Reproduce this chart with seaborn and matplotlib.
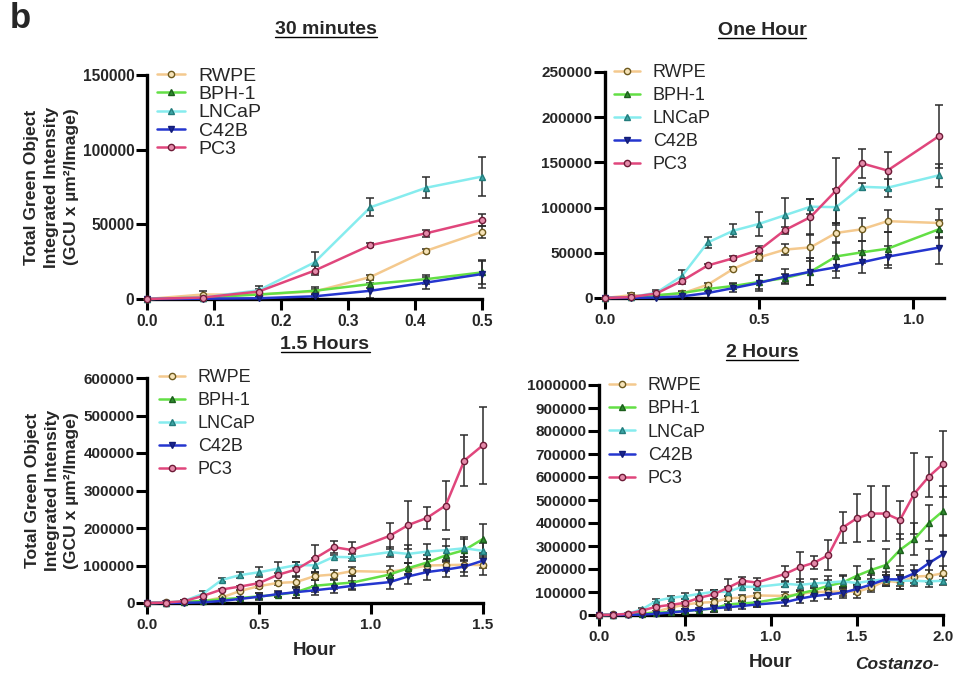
import numpy as np
import pandas as pd
import matplotlib
matplotlib.use("Agg")
import matplotlib.pyplot as plt
from matplotlib.lines import Line2D
import seaborn as sns

# ---------------- data ----------------
minutes = [0, 5, 10, 15, 20, 25, 30, 35, 40, 45, 50, 55,
           65, 70, 75, 80, 85, 90, 95, 100, 105, 110, 115, 120]

rwpe = [0, 3000, 3000, 5000, 14700, 32300, 45000, 53500, 56000, 72000, 76000, 85000,
        83000, 91000, 100000, 101000, 102000, 101000, 120000, 149000, 142000, 167000, 170000, 181000]
bph1 = [0, 1000, 3000, 5500, 10000, 13300, 17800, 22000, 29000, 46000, 50500, 54500,
        76000, 93000, 108000, 127000, 141000, 171000, 196000, 217000, 283000, 329000, 399000, 452000]
lncap = [0, 1000, 5800, 24500, 61400, 74500, 82000, 91500, 101000, 100500, 123000, 122000,
         135700, 131000, 137000, 141000, 146000, 139000, 149000, 155000, 149000, 149000, 146000, 149000]
c42b = [0, 200, 500, 1800, 5500, 11000, 16700, 23600, 29000, 34000, 39500, 45700,
        55700, 71000, 82500, 89000, 97000, 113000, 133000, 155000, 155000, 181000, 225000, 264000]
pc3 = [0, 1000, 5000, 19000, 36000, 44000, 53000, 75000, 89500, 119000, 149000, 141000,
       179000, 208000, 227000, 260000, 380000, 421000, 441000, 441000, 413000, 528000, 601000, 657000]

rwpe_err = [0, 2500, 1500, 1500, 1500, 1500, 4000, 6000, 15000, 11000, 13000, 12000,
            16000, 15000, 18000, 15000, 20000, 25000, 20000, 25000, 30000, 30000, 25000, 30000]
bph1_err = [0, 500, 1500, 2500, 2500, 3000, 8000, 5000, 15000, 16000, 12000, 18000,
            10000, 15000, 20000, 25000, 30000, 40000, 46000, 71000, 70000, 70000, 79000, 109000]
lncap_err = [0, 500, 3000, 7000, 6000, 7000, 13000, 19000, 8000, 20000, 4000, 10000,
             13000, 25000, 20000, 30000, 30000, 20000, 25000, 20000, 25000, 25000, 25000, 20000]
c42b_err = [0, 200, 500, 1000, 5000, 4000, 9000, 8000, 15000, 12000, 12000, 12000,
            18000, 20000, 20000, 20000, 25000, 20000, 25000, 30000, 40000, 35000, 60000, 85000]
pc3_err = [0, 500, 2000, 3000, 1500, 2500, 4000, 4000, 20000, 36000, 16000, 21000,
           35000, 65000, 29000, 66000, 69000, 103000, 121000, 121000, 83000, 176000, 87000, 143000]

series_names = ["RWPE", "BPH-1", "LNCaP", "C42B", "PC3"]
series_vals = [rwpe, bph1, lncap, c42b, pc3]
series_errs = [rwpe_err, bph1_err, lncap_err, c42b_err, pc3_err]

panel_titles = ["30 minutes", "One Hour", "1.5 Hours", "2 Hours"]
panel_cutoff_min = [30, 65, 90, 120]

# ---------------- styles ----------------
line_colors = ["#F4C98E", "#63DF45", "#86ECEE", "#2536CF", "#E0467C"]
edge_colors = ["#6E5A1E", "#1C5E1C", "#227C7C", "#121C78", "#6E1B37"]
face_colors = ["#F6E3B8", "#2E8A2E", "#3BA5A5", "#1A2690", "#E58AAA"]
markers = ["o", "^", "^", "v", "o"]

W, H = 959, 676
sns.set_style("ticks")
plt.rcParams["font.family"] = ["Liberation Sans", "DejaVu Sans"]

fig = plt.figure(figsize=(W / 100, H / 100), dpi=100)


def rect(l, r, t, b):
    return [l / W, 1 - b / H, (r - l) / W, (b - t) / H]


axes_px = [(147, 482, 75, 299), (605, 944, 72, 298),
           (147, 483, 378, 603), (599, 943, 385, 615)]
xlims = [0.5, 1.1, 1.5, 2.0]
xticks = [np.arange(0, 0.51, 0.1), [0, 0.5, 1.0], [0, 0.5, 1.0, 1.5], [0, 0.5, 1.0, 1.5, 2.0]]
ylims = [150000, 250000, 600000, 1000000]
ysteps = [50000, 50000, 100000, 100000]
tick_fs = [11.2, 11, 11, 11]
leg_fs = [14, 13, 13, 13]
leg_anchor = [(157, 67), (614, 64), (159, 369), (609, 377)]
leg_space = [0.04, 0.33, 0.33, 0.35]
title_pos = [(326, 34), (762, 35), (325, 349), (762, 357)]

ylab = "Total Green Object\nIntegrated Intensity\n(GCU x µm²/Image)"

title_texts = []
for i in range(4):
    ax = fig.add_axes(rect(*axes_px[i]))
    cutoff = panel_cutoff_min[i]
    for name, vals, errs, lc, ec, fc, mk in zip(series_names, series_vals, series_errs,
                                                line_colors, edge_colors, face_colors, markers):
        df = pd.DataFrame({"Hour": np.array(minutes) / 60.0, "Value": vals, "Err": errs,
                           "Minute": minutes})
        df = df[df["Minute"] <= cutoff]
        ax.errorbar(df["Hour"], df["Value"], yerr=df["Err"], fmt="none", ecolor="#2b2b2b",
                    elinewidth=1.1, capsize=2.6, capthick=1.1, clip_on=False, zorder=2)
        sns.lineplot(data=df, x="Hour", y="Value", ax=ax, color=lc, linewidth=1.8,
                     marker=mk, markersize=4.5, markeredgecolor=ec, markerfacecolor=fc,
                     markeredgewidth=1.0, label=name, clip_on=False, zorder=3,
                     errorbar=None, sort=False)
    ax.set_xlim(0, xlims[i])
    ax.set_ylim(0, ylims[i])
    ax.set_xticks(xticks[i])
    ax.set_xticklabels([f"{t:.1f}" for t in xticks[i]])
    yt = np.arange(0, ylims[i] + 1, ysteps[i])
    ax.set_yticks(yt)
    ax.set_yticklabels([f"{int(v)}" for v in yt])
    for lbl in ax.get_xticklabels() + ax.get_yticklabels():
        lbl.set_fontweight("bold")
        lbl.set_fontsize(tick_fs[i])
    ax.tick_params(direction="out", length=8, width=2.2, color="black")
    ax.tick_params(axis="y", pad=1)
    ax.tick_params(axis="x", pad=3)
    for s in ["top", "right"]:
        ax.spines[s].set_visible(False)
    for s in ["left", "bottom"]:
        ax.spines[s].set_linewidth(2.4)
        ax.spines[s].set_color("black")
        ax.spines[s].set_capstyle("projecting")
    if i in (0, 2):
        ax.set_ylabel(ylab, fontsize=12.6, fontweight="bold", linespacing=1.4, labelpad=3)
    else:
        ax.set_ylabel("")
    if i in (2, 3):
        ax.set_xlabel("Hour", fontsize=13.5, fontweight="bold", labelpad=7)
    else:
        ax.set_xlabel("")
    ax_l, ax_t = leg_anchor[i]
    ax.legend(loc="upper left", bbox_to_anchor=(ax_l / W, 1 - ax_t / H),
              bbox_transform=fig.transFigure, frameon=False, borderpad=0,
              borderaxespad=0, fontsize=leg_fs[i], labelspacing=leg_space[i],
              handlelength=1.45, handletextpad=0.7)
    tx, ty = title_pos[i]
    t = fig.text(tx / W, 1 - ty / H, panel_titles[i], ha="center", va="baseline",
                 fontsize=14, fontweight="bold")
    title_texts.append(t)

fig.text(10 / W, 1 - 2 / H, "b", ha="left", va="top", fontsize=25, fontweight="bold")
fig.text(855 / W, 1 - 669 / H, "Costanzo-", ha="left", va="baseline", fontsize=12.5,
         fontweight="bold", style="italic")

# underline titles
fig.canvas.draw()
inv = fig.transFigure.inverted()
for t in title_texts:
    bb = t.get_window_extent()
    x0, y0 = inv.transform((bb.x0, bb.y0))
    x1, _ = inv.transform((bb.x1, bb.y0))
    yb = y0 + 1.0 / H
    fig.add_artist(Line2D([x0, x1], [yb, yb], transform=fig.transFigure,
                          color="black", linewidth=1.0))

fig.savefig("out.png", dpi=100)
